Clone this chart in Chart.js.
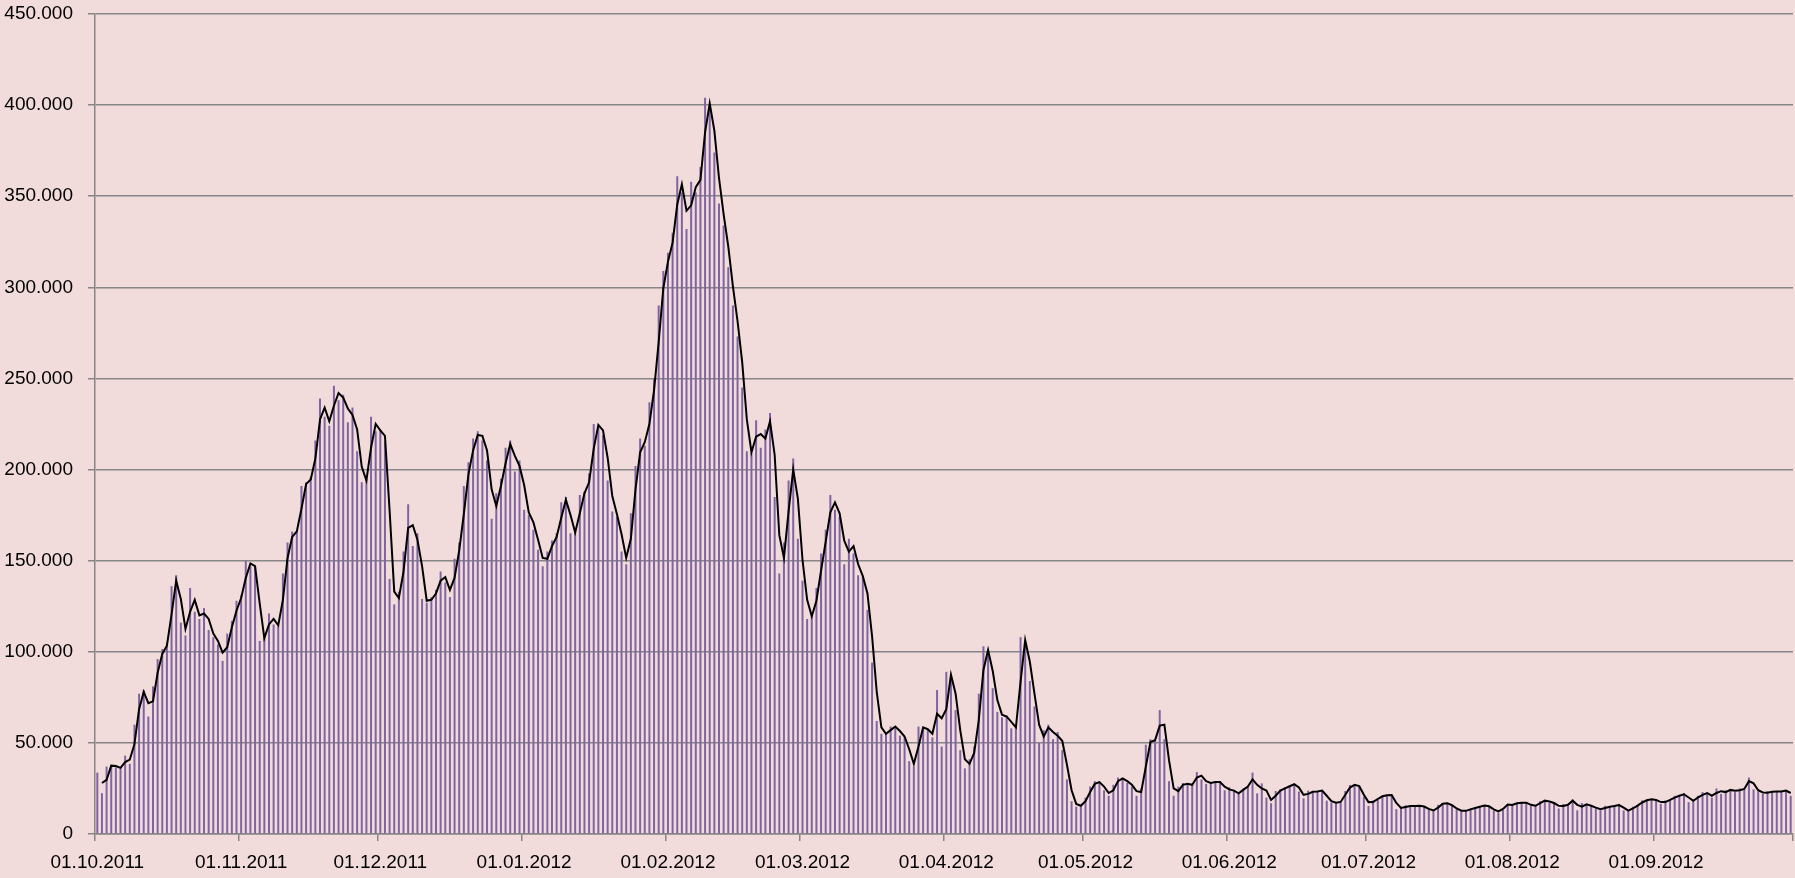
<!DOCTYPE html>
<html>
    <head>
        <meta charset="utf-8">
        <title>Daily values 2011/2012</title>
        <style>
            html, body { margin: 0; padding: 0; background: #F2DCDB; }
            .chart-box { width: 1795px; height: 878px; }
        </style>
    </head>
    <body>
        <div class="chart-box">
            <canvas id="dayChart"></canvas>
        </div>
        <script src="https://cdn.jsdelivr.net/npm/chart.js"></script>
        <script>
            // daily values in thousands, one array per month
            const barsOct = [33.7, 22.4, 37, 38, 36.6, 36, 43, 38.5, 60, 77, 79, 64.5, 81, 96, 101.5, 105, 136, 142, 116, 109, 135, 122, 118, 124, 112, 108, 104, 95, 110, 117, 128];
            const barsNov = [131, 150, 147, 147, 106, 109, 121, 115, 114, 143, 160, 166, 166, 191, 193, 196, 216, 239, 229, 224, 246, 238, 241, 226, 234, 210, 193, 195, 229, 221];
            const barsDec = [222, 215, 140, 126, 133, 155, 181, 158, 165, 129, 127, 130, 134, 144, 138, 130, 151, 160, 191, 204, 217, 221, 216, 205, 173, 187, 195, 212, 216, 199, 205];
            const barsJan = [178, 175, 167, 156, 147, 155, 161, 165, 182, 185, 165, 166, 186, 188, 198, 225, 224, 219, 194, 177, 174, 155, 148, 176, 202, 217, 213, 237, 250, 290, 309];
            const barsFeb = [319, 330, 361, 352, 332, 358, 352, 366, 404, 398, 374, 346, 334, 311, 290, 273, 245, 210, 209, 227, 212, 222, 231, 185, 143, 160, 194, 206, 162];
            const barsMar = [139, 118, 121, 135, 154, 167, 186, 178, 174, 148, 162, 154, 142, 141, 123, 94, 62, 55, 55, 59, 59, 54, 53, 40, 37, 59, 58, 57, 53, 79, 48];
            const barsApr = [89, 86, 68, 46, 36, 41, 48, 77, 103, 99, 80, 67, 64, 65, 58, 59, 108, 105, 84, 70, 50, 57, 60, 52, 56, 46, 30, 18, 15, 16];
            const barsMay = [20, 26, 29, 28, 24, 21, 27, 31, 30, 28, 26, 21, 25, 49, 52, 51, 68, 52, 29, 21, 26, 28, 27, 27.5, 34, 30, 27.5, 28, 29, 28, 24];
            const barsJun = [25.6, 24.2, 22.3, 25, 26.4, 33.7, 22.3, 27.8, 20, 16.9, 23.6, 24.5, 25.6, 26.4, 27.3, 23.3, 19.6, 23.8, 22.7, 23.3, 24.2, 18.3, 17.2, 17.2, 17.2, 23.6, 26.9, 26.9, 26.4, 20.5];
            const barsJul = [15.4, 18.3, 19.6, 20.9, 21.4, 21.4, 13.6, 15, 15.8, 15.6, 15.6, 15.6, 15, 13.6, 12.6, 16, 16.9, 17.2, 16, 13.6, 12.3, 12.8, 14.1, 14.5, 15.4, 16, 15, 12.8, 11.7, 13.2, 16];
            const barsAug = [16.5, 17, 17.5, 17, 15.5, 15.5, 18, 18.5, 17, 17, 14, 16.5, 15.5, 19, 13, 17, 16, 15, 14, 13, 15.5, 15, 15.5, 16.5, 13, 12.5, 15, 16, 18.5, 19, 19];
            const barsSep = [18.5, 16.5, 18.5, 19, 21, 21, 22.5, 17.5, 19, 21, 23, 22, 20, 25, 22, 24, 24.5, 23, 25, 24.5, 31, 24.5, 23.5, 22, 23.5, 23, 23.5, 23.5, 24, 21];

            // black trend line, in thousands
            const lineOct = [null, 28, 29.7, 37.5, 37.3, 36.3, 39.5, 40.8, 49.3, 68.5, 78, 71.8, 72.8, 88.5, 98.8, 103.3, 120.5, 139, 129, 112.5, 122, 128.5, 120, 121, 118, 110, 106, 99.5, 102.5, 113.5, 122.5];
            const lineNov = [129.5, 140.5, 148.5, 147, 126.5, 107.5, 115, 118, 114.5, 128.5, 151.5, 163, 166, 178.5, 192, 194.5, 206, 227.5, 234, 226.5, 235, 242, 239.5, 233.5, 230, 222, 201.5, 194, 212, 225];
            const lineDec = [221.5, 218.5, 177.5, 133, 129.5, 144, 168, 169.5, 161.5, 147, 128, 128.5, 132, 139, 141, 134, 140.5, 155.5, 175.5, 197.5, 210.5, 219, 218.5, 210.5, 189, 180, 191, 203.5, 214, 207.5, 202];
            const lineJan = [191.5, 176.5, 171, 161.5, 151.5, 151, 158, 163, 173.5, 183.5, 175, 165.5, 176, 187, 193, 211.5, 224.5, 221.5, 206.5, 185.5, 175.5, 164.5, 151.5, 162, 189, 209.5, 215, 225, 243.5, 270, 299.5];
            const lineFeb = [314, 324.5, 345.5, 356.5, 342, 345, 355, 359, 385, 401, 386, 360, 340, 322.5, 300.5, 281.5, 259, 227.5, 209.5, 218, 219.5, 217, 226.5, 208, 164, 151.5, 177, 200, 184];
            const lineMar = [150.5, 128.5, 119.5, 128, 144.5, 160.5, 176.5, 182, 176, 161, 155, 158, 148, 141.5, 132, 108.5, 78, 58.5, 55, 57, 59, 56.5, 53.5, 46.5, 38.5, 48, 58.5, 57.5, 55, 66, 63.5];
            const lineApr = [68.5, 87.5, 77, 57, 41, 38.5, 44.5, 62.5, 90, 101, 89.5, 73.5, 65.5, 64.5, 61.5, 58.5, 83.5, 106.5, 94.5, 77, 60, 53.5, 58.5, 56, 54, 51, 38, 24, 16.5, 15.5];
            const lineMay = [18, 23, 27.5, 28.5, 26, 22.5, 24, 29, 30.5, 29, 27, 23.5, 23, 37, 50.5, 51.5, 59.5, 60, 40.5, 25, 23.5, 27, 27.5, 27, 31, 32, 29, 28, 28.5, 28.5, 26];
            const lineJun = [24.5, 23.8, 22.3, 24.2, 26, 30, 27, 25, 23.8, 18.7, 21, 23.8, 25, 26.2, 27.3, 25.5, 21.5, 22, 23.2, 23.3, 23.8, 21, 18, 17.2, 17.6, 21.5, 25.5, 27, 26.3, 21.5];
            const lineJul = [17.5, 17.6, 19.2, 20.7, 21.3, 21.4, 17, 14.3, 14.8, 15.3, 15.4, 15.5, 15.1, 13.8, 12.9, 14.5, 16.6, 16.9, 15.8, 14, 12.8, 12.7, 13.5, 14.3, 15, 15.6, 15.2, 13.5, 12.4, 13.8, 16.2];
            const lineAug = [15.9, 16.9, 17.2, 17.2, 16, 15.5, 17, 18.3, 17.8, 17, 15.5, 15.4, 16, 18.3, 16, 15, 16.3, 15.5, 14.5, 13.6, 14.3, 15, 15.4, 15.9, 14.5, 12.8, 14, 15.6, 17.3, 18.5, 19];
            const lineSep = [18.7, 17.5, 17.5, 18.7, 20, 21, 21.8, 20, 18.2, 20, 21.5, 22.5, 21, 22.5, 23.5, 23, 24.2, 23.8, 24, 24.7, 29, 27.8, 24, 22.8, 22.7, 23.2, 23.3, 23.3, 23.8, 22.5];

            const tickLabels = ['01.10.2011', '01.11.2011', '01.12.2011', '01.01.2012', '01.02.2012', '01.03.2012',
                '01.04.2012', '01.05.2012', '01.06.2012', '01.07.2012', '01.08.2012', '01.09.2012'];

            const bars = [].concat(barsOct, barsNov, barsDec, barsJan, barsFeb, barsMar, barsApr, barsMay, barsJun, barsJul, barsAug, barsSep);
            const trend = [].concat(lineOct, lineNov, lineDec, lineJan, lineFeb, lineMar, lineApr, lineMay, lineJun, lineJul, lineAug, lineSep);

            // one category per day, starting 01.10.2011
            const pad = n => (n < 10 ? '0' : '') + n;
            const days = bars.map((v, i) => {
                const d = new Date(Date.UTC(2011, 9, 1 + i));
                return pad(d.getUTCDate()) + '.' + pad(d.getUTCMonth() + 1) + '.' + d.getUTCFullYear();
            });

            const gridGray = '#868686';
            const labelFont = { family: "'Liberation Sans', Arial, sans-serif", size: 19 };

            const ctx = document.getElementById('dayChart');
            const chart = new Chart(ctx, {
                type: 'bar',
                data: {
                    labels: days,
                    datasets: [
                        {
                            type: 'line',
                            data: trend,
                            borderColor: '#000000',
                            borderWidth: 2,
                            pointRadius: 0,
                            tension: 0,
                            order: 0
                        },
                        {
                            data: bars,
                            backgroundColor: '#8064A2',
                            categoryPercentage: 0.43,
                            barPercentage: 1,
                            order: 1
                        }
                    ]
                },
                options: {
                    responsive: true,
                    maintainAspectRatio: false,
                    animation: false,
                    layout: { padding: { left: 0, top: 14, right: 2, bottom: 0 } },
                    plugins: {
                        legend: { display: false },
                        tooltip: { enabled: false }
                    },
                    scales: {
                        x: {
                            offset: true,
                            grid: {
                                offset: true,
                                drawOnChartArea: false,
                                tickLength: 7,
                                lineWidth: 1.5,
                                color: c => (c.tick === undefined || tickLabels.includes(days[c.index])) ? gridGray : 'rgba(0,0,0,0)'
                            },
                            border: { color: gridGray, width: 1.5 },
                            ticks: {
                                autoSkip: false,
                                minRotation: 0,
                                maxRotation: 0,
                                padding: 10,
                                color: '#000',
                                font: labelFont,
                                callback: (v, i) => tickLabels.includes(days[i]) ? days[i] : ''
                            },
                            afterFit: s => { s.height = 44; s.paddingLeft = 0; s.paddingRight = 0; }
                        },
                        y: {
                            min: 0,
                            max: 450,
                            ticks: {
                                stepSize: 50,
                                padding: 15,
                                color: '#000',
                                font: labelFont,
                                callback: v => v === 0 ? '0' : v + '.000'
                            },
                            grid: { color: gridGray, lineWidth: 1.5, tickLength: 7 },
                            border: { color: gridGray, width: 1.5 },
                            afterFit: s => { s.width = 95; s.paddingTop = 0; s.paddingBottom = 0; }
                        }
                    }
                }
            });
        </script>
    </body>
</html>
